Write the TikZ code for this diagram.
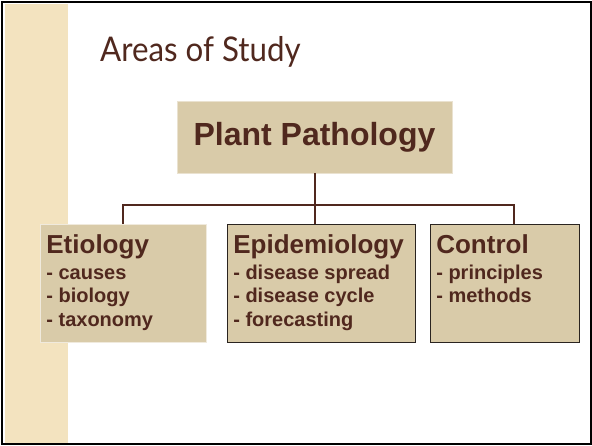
\documentclass[tikz,border=0pt]{standalone}
\usepackage{fontspec}
\setmainfont{Liberation Sans}
\newfontfamily\titlefont[FakeStretch=0.92]{Lato}
\usetikzlibrary{positioning}
\definecolor{barktext}{HTML}{50281E}
\definecolor{boxtan}{HTML}{D9CBA9}
\definecolor{striptan}{HTML}{F3E3BF}
\definecolor{edgedark}{HTML}{2A2420}
% heading plus list of items, top aligned in a fixed-height box
\newcommand{\areatext}[3]{\parbox[c][118pt][t]{#1}{\raggedright\vspace*{10pt}%
{\fontsize{26}{28}\selectfont\bfseries #2\par}\vspace{2.5pt}%
\fontsize{20}{23.5}\selectfont\bfseries #3}}

\begin{document}
\begin{tikzpicture}[x=1pt, y=-1pt, every node/.style={text=barktext}, topbox/.style={fill=boxtan, draw=boxtan!55!white, line width=0.8pt, minimum width=275pt, minimum height=72pt, font=\fontsize{32}{36}\selectfont\bfseries}, area/.style={fill=boxtan, inner xsep=6pt, inner ysep=0pt}, link/.style={draw=barktext, line width=2pt}]
\useasboundingbox (0,0) rectangle (592,445);
\fill[striptan] (5,4) rectangle (68,443);
\draw[line width=2pt] (1.5,1.5) rectangle (590.5,443.5);
\node[anchor=base west, inner sep=0pt, font=\titlefont\fontsize{34}{40}\selectfont] (title) at (100,61) {Areas of Study};
\node[topbox] (plant) at (314.5,137) {Plant Pathology};
\node[area, anchor=north west, draw=boxtan!40!white, line width=0.8pt] (eti) at (40,224) {\areatext{154pt}{Etiology}{- causes\\ - biology\\ - taxonomy}};
\node[area, anchor=west, draw=edgedark, line width=1pt, right=20pt of eti] (epi) {\areatext{176pt}{Epidemiology}{- disease spread\\ - disease cycle\\ - forecasting}};
\node[area, anchor=west, draw=edgedark, line width=1pt, right=14pt of epi] (ctl) {\areatext{137pt}{Control}{- principles\\ - methods}};
\draw[link] (plant.south) -- (plant.south |- epi.north);
\draw[link] (eti.north) -- ++(0,-19) -| ([xshift=9.5pt]ctl.north);
\end{tikzpicture}
\end{document}
